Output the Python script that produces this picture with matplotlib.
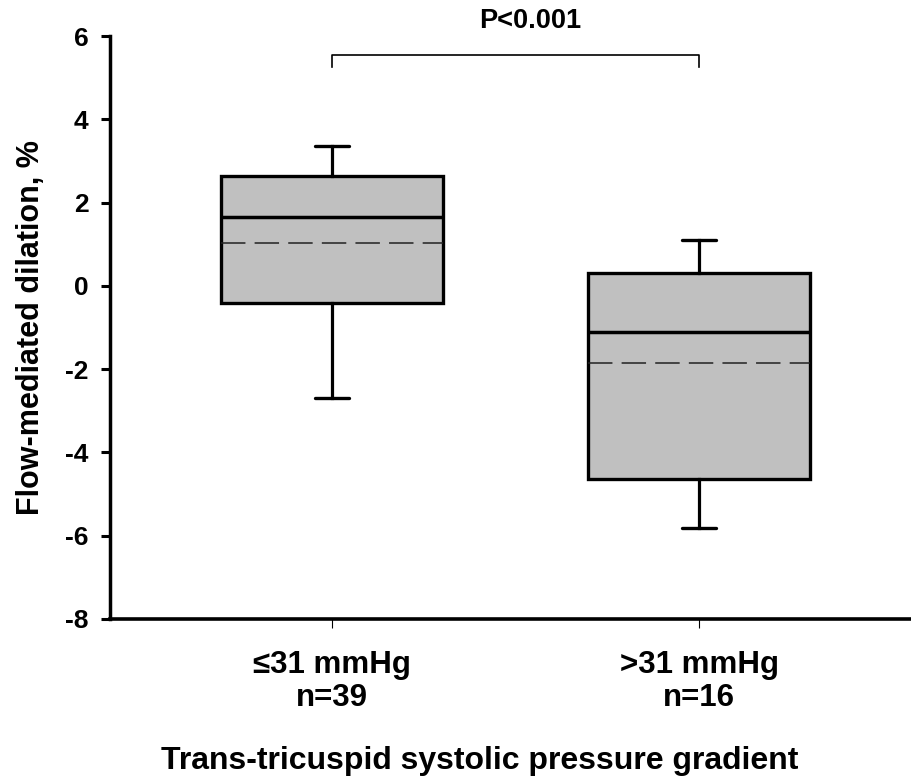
import matplotlib
matplotlib.use("Agg")
import matplotlib.pyplot as plt

plt.rcParams['font.family'] = ['Liberation Sans', 'DejaVu Sans']
plt.rcParams['font.weight'] = 'bold'
plt.rcParams['axes.unicode_minus'] = False

# ---- data ----
categories = ["\u226431 mmHg\nn=39", ">31 mmHg\nn=16"]
whisker_low = [-2.69, -5.81]
q1_values = [-0.42, -4.65]
medians = [1.65, -1.12]
means = [1.03, -1.86]
q3_values = [2.64, 0.32]
whisker_high = [3.36, 1.10]
y_ticks = [-8, -6, -4, -2, 0, 2, 4, 6]
p_text = "P<0.001"
y_label = "Flow-mediated dilation, %"
x_label = "Trans-tricuspid systolic pressure gradient"

positions = [1, 2]
stats = []
for i in range(len(categories)):
    stats.append(dict(med=medians[i], q1=q1_values[i], q3=q3_values[i],
                      whislo=whisker_low[i], whishi=whisker_high[i],
                      mean=means[i], fliers=[], label=categories[i]))

fig = plt.figure(figsize=(9.12, 7.82), dpi=100)
ax = fig.add_axes([110/912, 163/782, 802/912, 583/782])

ax.bxp(stats, positions=positions, widths=0.604, capwidths=0.094,
       showmeans=True, meanline=True, showfliers=False, patch_artist=True,
       boxprops=dict(facecolor='#c0c0c0', edgecolor='black', linewidth=2.4),
       medianprops=dict(color='black', linewidth=2.5),
       meanprops=dict(color='#222222', linewidth=1.1, linestyle=(0, (16, 6))),
       whiskerprops=dict(color='black', linewidth=2.3),
       capprops=dict(color='black', linewidth=2.4, solid_capstyle='round'))

ax.set_xlim(0.396, 2.58)
ax.set_ylim(-8, 6)
ax.set_yticks(y_ticks)
ax.set_yticklabels([str(t) for t in y_ticks])
ax.set_xticks(positions)
ax.set_xticklabels(categories, linespacing=1.12)

for s in ['top', 'right']:
    ax.spines[s].set_visible(False)
ax.spines['left'].set_linewidth(2.5)
ax.spines['bottom'].set_linewidth(2.6)

ax.tick_params(axis='y', direction='out', length=6.5, width=2.2, labelsize=19, pad=9)
ax.tick_params(axis='x', direction='out', length=6.5, width=0.8, labelsize=22.5, pad=16)

ax.set_ylabel(y_label, fontsize=22, fontweight='bold', labelpad=14)
ax.set_xlabel(x_label, fontsize=23, fontweight='bold', labelpad=24)
ax.xaxis.label.set_x((480 - 110) / 802)

# significance bracket
bracket_y = 5.54
drop_y = 5.26
ax.plot([positions[0], positions[0], positions[1], positions[1]],
        [drop_y, bracket_y, bracket_y, drop_y], color='black', linewidth=1.2,
        clip_on=False)
ax.text(1.54, 6.36, p_text, ha='center', va='center', fontsize=19.5,
        fontweight='bold', clip_on=False)

fig.savefig("out.png", dpi=100)
